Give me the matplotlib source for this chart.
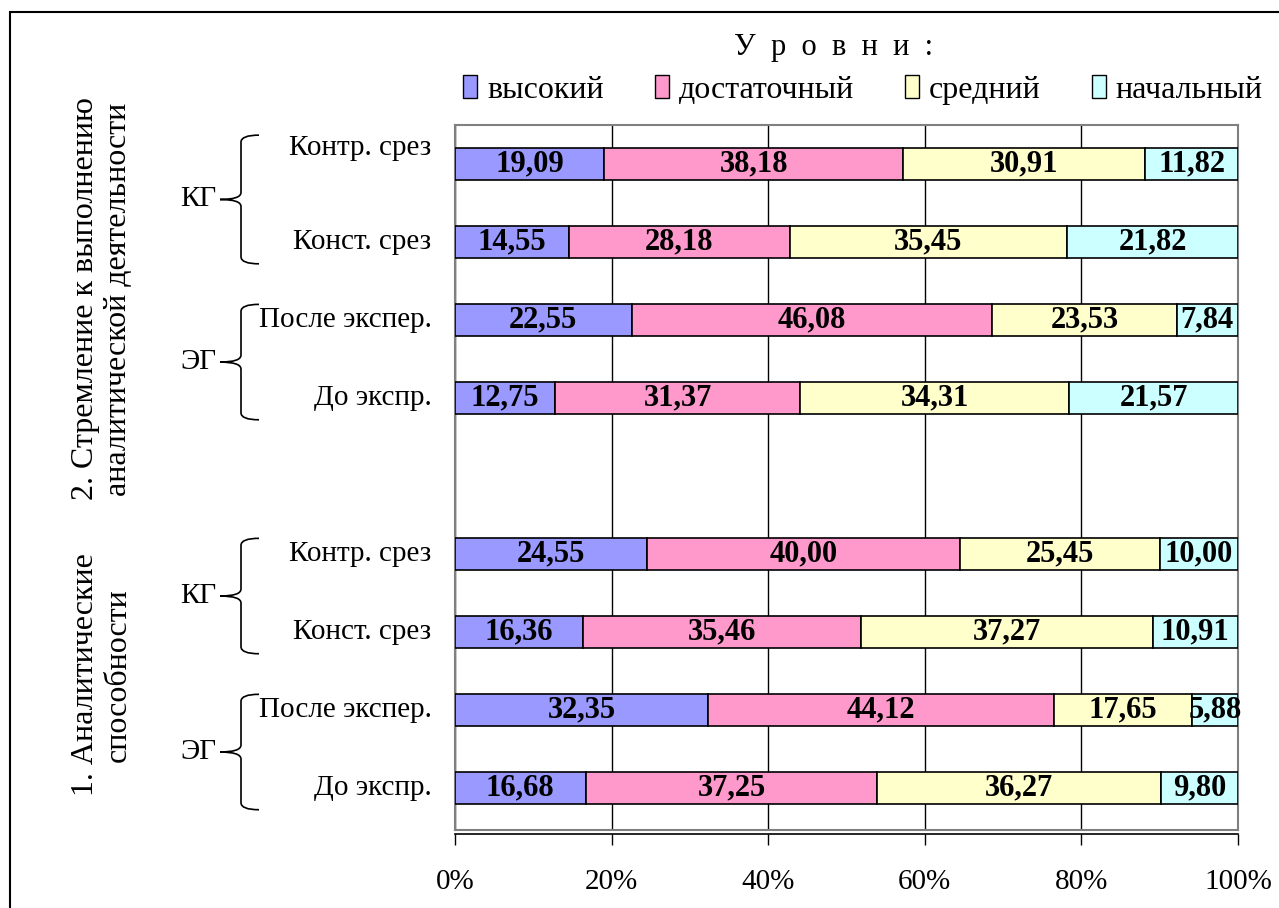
import matplotlib
matplotlib.use("Agg")
import matplotlib.pyplot as plt
from matplotlib.patches import Patch, Rectangle
from matplotlib.path import Path
from matplotlib.patches import PathPatch
import matplotlib.transforms as mtransforms
import numpy as np

plt.rcParams['font.family'] = ['Liberation Serif', 'DejaVu Serif']

# ---- data (bottom to top; None = empty slot) ----
categories = ["До экспр.", "После экспер.", "Конст. срез", "Контр. срез", None,
              "До экспр.", "После экспер.", "Конст. срез", "Контр. срез"]
levels = ["высокий", "достаточный", "средний", "начальный"]
high_vals   = [16.68, 32.35, 16.36, 24.55, None, 12.75, 22.55, 14.55, 19.09]
suff_vals   = [37.25, 44.12, 35.46, 40.00, None, 31.37, 46.08, 28.18, 38.18]
mid_vals    = [36.27, 17.65, 37.27, 25.45, None, 34.31, 23.53, 35.45, 30.91]
init_vals   = [9.80, 5.88, 10.91, 10.00, None, 21.57, 7.84, 21.82, 11.82]
groups = [("ЭГ", 0, 1), ("КГ", 2, 3), ("ЭГ", 5, 6), ("КГ", 7, 8)]
sections = [("1. Аналитические\nспособности", 0, 3),
            ("2. Стремление к выполнению\nаналитической деятельности", 5, 8)]
xticks = [0, 20, 40, 60, 80, 100]
xticklabels = ["0%", "20%", "40%", "60%", "80%", "100%"]
colors = ["#9999FF", "#FF99CC", "#FFFFCC", "#CCFFFF"]

W, H = 1279, 908
fig = plt.figure(figsize=(W / 100, H / 100), dpi=100)
ax = fig.add_axes([455 / W, 1 - 830 / H, (1238 - 455) / W, (830 - 125) / H])

series = [high_vals, suff_vals, mid_vals, init_vals]
pos = [i for i, c in enumerate(categories) if c is not None]
left = np.zeros(len(pos))
for vals, col, name in zip(series, colors, levels):
    v = np.array([vals[i] for i in pos])
    bars = ax.barh(pos, v, left=left, height=0.41, color=col, edgecolor='black',
                   linewidth=1.2, label=name, zorder=3)
    for b, val in zip(bars, v):
        ax.text(b.get_x() + b.get_width() / 2, b.get_y() + b.get_height() / 2,
                f"{val:.2f}".replace('.', ','), ha='center', va='center',
                fontsize=22, fontweight='bold', zorder=4)
    left += v

ax.set_xlim(0, 100)
ax.set_ylim(-0.54, 8.5)
ax.set_xticks(xticks)
ax.set_xticklabels(xticklabels)
ax.set_yticks([])
ax.grid(axis='x', color='black', linewidth=1.0, zorder=0)
for s in ['left', 'right', 'top']:
    ax.spines[s].set_color('#808080')
    ax.spines[s].set_linewidth(1.5)
ax.spines['bottom'].set_color('black')
ax.spines['bottom'].set_linewidth(1.2)
ax.spines['bottom'].set_position(('outward', 3))
ax.plot([0, 1], [0, 0], transform=ax.transAxes, color='#808080', lw=1.5,
        clip_on=False, zorder=5)
ax.tick_params(axis='x', direction='out', length=8, width=1.0, pad=17, color='black',
               labelsize=21)

# category labels
for i, c in enumerate(categories):
    if c is None:
        continue
    yoff = 0.2 if i == len(categories) - 1 else 0.0
    ax.text(-3, i + yoff, c, ha='right', va='center', fontsize=21,
            transform=ax.transData, clip_on=False)

# braces + group labels (x in pixels, y in data)
trans = mtransforms.blended_transform_factory(fig.dpi_scale_trans, ax.transData)
def px(x):
    return x / 100.0

for name, lo, hi in groups:
    top = hi + (0.37 if hi == len(categories) - 1 else 0.2)
    bot = lo - 0.28
    mid = (top + bot) / 2
    xv, xe, xt = px(241), px(259), px(220)
    r = 0.09
    verts = [(xe, top), (xv, top), (xv, top - r), (xv, mid + r), (xv, mid), (xt, mid),
             (xv, mid), (xv, mid - r), (xv, bot + r), (xv, bot), (xe, bot)]
    codes = [Path.MOVETO, Path.CURVE3, Path.CURVE3, Path.LINETO, Path.CURVE3, Path.CURVE3,
             Path.CURVE3, Path.CURVE3, Path.LINETO, Path.CURVE3, Path.CURVE3]
    pp = PathPatch(Path(verts, codes), transform=trans, fill=False, lw=1.2,
                   edgecolor='black', clip_on=False)
    fig.add_artist(pp)
    ax.text(px(216), mid, name, transform=trans, ha='right', va='center', fontsize=21)

sec_shift = [-0.05, -0.23]
for (name, lo, hi), sh in zip(sections, sec_shift):
    ax.text(px(102), (lo + hi) / 2 + sh, name, transform=trans, rotation=90,
            ha='center', va='center', fontsize=23, linespacing=1.2)

# legend
fig.text(834 / W, 1 - 48 / H, "У  р  о  в  н  и  :", ha='center', va='center', fontsize=22)
handles = [Patch(facecolor=c, edgecolor='black', linewidth=1.0) for c in colors]
fig.legend(handles, levels, loc='center', bbox_to_anchor=(863 / W, 1 - 90 / H),
           ncol=4, frameon=False, fontsize=23, handlelength=0.45, handleheight=0.75,
           handletextpad=0.3, columnspacing=1.6, borderaxespad=0, borderpad=0)

# outer frame
fig.add_artist(Rectangle((10 / W, -0.05), 1.2, 1 - 12 / H + 0.05, transform=fig.transFigure,
                         fill=False, edgecolor='black', lw=1.5))

fig.savefig("out.png", dpi=100)
